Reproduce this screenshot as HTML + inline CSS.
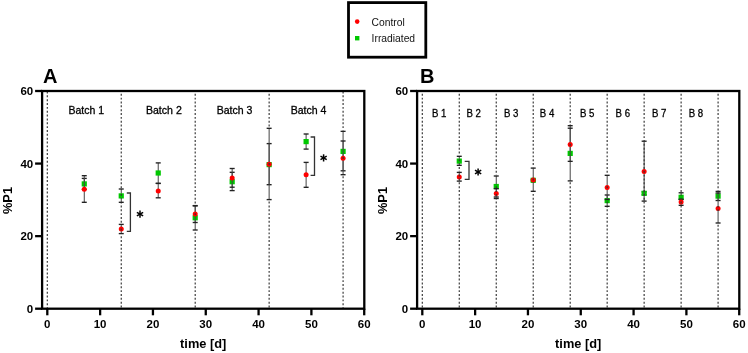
<!DOCTYPE html>
<html><head><meta charset="utf-8"><style>
html,body{margin:0;padding:0;background:#fff;width:748px;height:353px;overflow:hidden}
svg{display:block;will-change:transform}
text{font-family:"Liberation Sans", sans-serif}
.tk{font-size:11.5px;font-weight:bold;fill:#000}
.let{font-size:20px;font-weight:bold;fill:#000}
.ax{font-size:12.8px;font-weight:bold;fill:#000}
.bl{font-size:10.8px;fill:#000;stroke:#000;stroke-width:0.3px}
.lg{font-size:10.3px;fill:#111}
</style></head><body>
<svg width="748" height="353" viewBox="0 0 748 353">
<rect width="748" height="353" fill="#fff"/>
<line x1="84.27" y1="178.40" x2="84.27" y2="189.40" stroke="#444" stroke-width="1.0"/>
<line x1="81.77" y1="178.40" x2="86.77" y2="178.40" stroke="#222" stroke-width="1.35"/>
<line x1="81.77" y1="189.40" x2="86.77" y2="189.40" stroke="#222" stroke-width="1.35"/>
<rect x="81.67" y="181.30" width="5.2" height="5.2" fill="#00c800"/>
<line x1="84.27" y1="175.70" x2="84.27" y2="202.30" stroke="#444" stroke-width="1.0"/>
<line x1="81.77" y1="175.70" x2="86.77" y2="175.70" stroke="#222" stroke-width="1.35"/>
<line x1="81.77" y1="202.30" x2="86.77" y2="202.30" stroke="#222" stroke-width="1.35"/>
<circle cx="84.27" cy="189.20" r="2.5" fill="#ff0000"/>
<line x1="121.25" y1="189.00" x2="121.25" y2="202.30" stroke="#444" stroke-width="1.0"/>
<line x1="118.75" y1="189.00" x2="123.75" y2="189.00" stroke="#222" stroke-width="1.35"/>
<line x1="118.75" y1="202.30" x2="123.75" y2="202.30" stroke="#222" stroke-width="1.35"/>
<rect x="118.65" y="193.30" width="5.2" height="5.2" fill="#00c800"/>
<line x1="121.25" y1="224.40" x2="121.25" y2="233.60" stroke="#444" stroke-width="1.0"/>
<line x1="118.75" y1="224.40" x2="123.75" y2="224.40" stroke="#222" stroke-width="1.35"/>
<line x1="118.75" y1="233.60" x2="123.75" y2="233.60" stroke="#222" stroke-width="1.35"/>
<circle cx="121.25" cy="228.90" r="2.5" fill="#ff0000"/>
<line x1="158.22" y1="162.90" x2="158.22" y2="183.40" stroke="#444" stroke-width="1.0"/>
<line x1="155.72" y1="162.90" x2="160.72" y2="162.90" stroke="#222" stroke-width="1.35"/>
<line x1="155.72" y1="183.40" x2="160.72" y2="183.40" stroke="#222" stroke-width="1.35"/>
<rect x="155.62" y="170.40" width="5.2" height="5.2" fill="#00c800"/>
<line x1="158.22" y1="183.40" x2="158.22" y2="197.80" stroke="#444" stroke-width="1.0"/>
<line x1="155.72" y1="183.40" x2="160.72" y2="183.40" stroke="#222" stroke-width="1.35"/>
<line x1="155.72" y1="197.80" x2="160.72" y2="197.80" stroke="#222" stroke-width="1.35"/>
<circle cx="158.22" cy="191.00" r="2.5" fill="#ff0000"/>
<line x1="195.20" y1="205.60" x2="195.20" y2="230.00" stroke="#444" stroke-width="1.0"/>
<line x1="192.70" y1="205.60" x2="197.70" y2="205.60" stroke="#222" stroke-width="1.35"/>
<line x1="192.70" y1="230.00" x2="197.70" y2="230.00" stroke="#222" stroke-width="1.35"/>
<rect x="192.60" y="215.20" width="5.2" height="5.2" fill="#00c800"/>
<line x1="195.20" y1="205.90" x2="195.20" y2="222.50" stroke="#444" stroke-width="1.0"/>
<line x1="192.70" y1="205.90" x2="197.70" y2="205.90" stroke="#222" stroke-width="1.35"/>
<line x1="192.70" y1="222.50" x2="197.70" y2="222.50" stroke="#222" stroke-width="1.35"/>
<circle cx="195.20" cy="214.10" r="2.5" fill="#ff0000"/>
<line x1="232.17" y1="172.30" x2="232.17" y2="190.60" stroke="#444" stroke-width="1.0"/>
<line x1="229.67" y1="172.30" x2="234.67" y2="172.30" stroke="#222" stroke-width="1.35"/>
<line x1="229.67" y1="190.60" x2="234.67" y2="190.60" stroke="#222" stroke-width="1.35"/>
<rect x="229.57" y="179.10" width="5.2" height="5.2" fill="#00c800"/>
<line x1="232.17" y1="168.50" x2="232.17" y2="187.20" stroke="#444" stroke-width="1.0"/>
<line x1="229.67" y1="168.50" x2="234.67" y2="168.50" stroke="#222" stroke-width="1.35"/>
<line x1="229.67" y1="187.20" x2="234.67" y2="187.20" stroke="#222" stroke-width="1.35"/>
<circle cx="232.17" cy="178.00" r="2.5" fill="#ff0000"/>
<line x1="269.14" y1="143.60" x2="269.14" y2="184.70" stroke="#444" stroke-width="1.0"/>
<line x1="266.64" y1="143.60" x2="271.64" y2="143.60" stroke="#222" stroke-width="1.35"/>
<line x1="266.64" y1="184.70" x2="271.64" y2="184.70" stroke="#222" stroke-width="1.35"/>
<rect x="266.54" y="162.00" width="5.2" height="5.2" fill="#00c800"/>
<line x1="269.14" y1="128.30" x2="269.14" y2="199.60" stroke="#444" stroke-width="1.0"/>
<line x1="266.64" y1="128.30" x2="271.64" y2="128.30" stroke="#222" stroke-width="1.35"/>
<line x1="266.64" y1="199.60" x2="271.64" y2="199.60" stroke="#222" stroke-width="1.35"/>
<circle cx="269.14" cy="164.30" r="2.5" fill="#ff0000"/>
<line x1="306.12" y1="134.00" x2="306.12" y2="149.10" stroke="#444" stroke-width="1.0"/>
<line x1="303.62" y1="134.00" x2="308.62" y2="134.00" stroke="#222" stroke-width="1.35"/>
<line x1="303.62" y1="149.10" x2="308.62" y2="149.10" stroke="#222" stroke-width="1.35"/>
<rect x="303.52" y="139.00" width="5.2" height="5.2" fill="#00c800"/>
<line x1="306.12" y1="162.40" x2="306.12" y2="187.30" stroke="#444" stroke-width="1.0"/>
<line x1="303.62" y1="162.40" x2="308.62" y2="162.40" stroke="#222" stroke-width="1.35"/>
<line x1="303.62" y1="187.30" x2="308.62" y2="187.30" stroke="#222" stroke-width="1.35"/>
<circle cx="306.12" cy="174.80" r="2.5" fill="#ff0000"/>
<line x1="343.09" y1="131.35" x2="343.09" y2="170.80" stroke="#444" stroke-width="1.0"/>
<line x1="340.59" y1="131.35" x2="345.59" y2="131.35" stroke="#222" stroke-width="1.35"/>
<line x1="340.59" y1="170.80" x2="345.59" y2="170.80" stroke="#222" stroke-width="1.35"/>
<rect x="340.49" y="148.80" width="5.2" height="5.2" fill="#00c800"/>
<line x1="343.09" y1="141.00" x2="343.09" y2="174.70" stroke="#444" stroke-width="1.0"/>
<line x1="340.59" y1="141.00" x2="345.59" y2="141.00" stroke="#222" stroke-width="1.35"/>
<line x1="340.59" y1="174.70" x2="345.59" y2="174.70" stroke="#222" stroke-width="1.35"/>
<circle cx="343.09" cy="158.20" r="2.5" fill="#ff0000"/>
<line x1="47.30" y1="91.50" x2="47.30" y2="307.70" stroke="#333" stroke-width="1.15" stroke-dasharray="1.925,1.925" stroke-dashoffset="0.000"/>
<line x1="121.25" y1="89.95" x2="121.25" y2="188.20" stroke="#333" stroke-width="1.15" stroke-dasharray="1.925,1.925" stroke-dashoffset="0.000"/>
<line x1="121.25" y1="193.30" x2="121.25" y2="198.50" stroke="#333" stroke-width="1.15" stroke-dasharray="1.925,1.925" stroke-dashoffset="3.250"/>
<line x1="121.25" y1="203.10" x2="121.25" y2="223.60" stroke="#333" stroke-width="1.15" stroke-dasharray="1.925,1.925" stroke-dashoffset="1.500"/>
<line x1="121.25" y1="226.40" x2="121.25" y2="231.40" stroke="#333" stroke-width="1.15" stroke-dasharray="1.925,1.925" stroke-dashoffset="1.700"/>
<line x1="121.25" y1="234.40" x2="121.25" y2="307.70" stroke="#333" stroke-width="1.15" stroke-dasharray="1.925,1.925" stroke-dashoffset="2.000"/>
<line x1="195.20" y1="89.95" x2="195.20" y2="204.80" stroke="#333" stroke-width="1.15" stroke-dasharray="1.925,1.925" stroke-dashoffset="0.000"/>
<line x1="195.20" y1="211.60" x2="195.20" y2="216.60" stroke="#333" stroke-width="1.15" stroke-dasharray="1.925,1.925" stroke-dashoffset="2.300"/>
<line x1="195.20" y1="230.80" x2="195.20" y2="307.70" stroke="#333" stroke-width="1.15" stroke-dasharray="1.925,1.925" stroke-dashoffset="2.250"/>
<line x1="269.14" y1="89.95" x2="269.14" y2="127.50" stroke="#333" stroke-width="1.15" stroke-dasharray="1.925,1.925" stroke-dashoffset="0.000"/>
<line x1="269.14" y1="161.80" x2="269.14" y2="166.80" stroke="#333" stroke-width="1.15" stroke-dasharray="1.925,1.925" stroke-dashoffset="2.550"/>
<line x1="269.14" y1="200.40" x2="269.14" y2="307.70" stroke="#333" stroke-width="1.15" stroke-dasharray="1.925,1.925" stroke-dashoffset="2.650"/>
<line x1="343.09" y1="91.50" x2="343.09" y2="130.55" stroke="#333" stroke-width="1.15" stroke-dasharray="1.925,1.925" stroke-dashoffset="0.000"/>
<line x1="343.09" y1="155.70" x2="343.09" y2="160.70" stroke="#333" stroke-width="1.15" stroke-dasharray="1.925,1.925" stroke-dashoffset="2.600"/>
<line x1="343.09" y1="175.50" x2="343.09" y2="307.70" stroke="#333" stroke-width="1.15" stroke-dasharray="1.925,1.925" stroke-dashoffset="3.150"/>
<polyline points="126.80,193.00 130.40,193.00 130.40,231.40 126.80,231.40" fill="none" stroke="#333" stroke-width="1.3"/>
<line x1="140.00" y1="210.50" x2="140.00" y2="217.70" stroke="#000" stroke-width="1.5"/>
<line x1="136.88" y1="212.30" x2="143.12" y2="215.90" stroke="#000" stroke-width="1.5"/>
<line x1="143.12" y1="212.30" x2="136.88" y2="215.90" stroke="#000" stroke-width="1.5"/>
<polyline points="310.60,137.00 314.50,137.00 314.50,175.40 310.60,175.40" fill="none" stroke="#333" stroke-width="1.3"/>
<line x1="323.60" y1="154.30" x2="323.60" y2="161.50" stroke="#000" stroke-width="1.5"/>
<line x1="320.48" y1="156.10" x2="326.72" y2="159.70" stroke="#000" stroke-width="1.5"/>
<line x1="326.72" y1="156.10" x2="320.48" y2="159.70" stroke="#000" stroke-width="1.5"/>
<rect x="42.10" y="91.00" width="322.20" height="217.70" fill="none" stroke="#000" stroke-width="2.3"/>
<line x1="35.10" y1="308.70" x2="42.10" y2="308.70" stroke="#000" stroke-width="2.3"/>
<text x="33.20" y="313.00" text-anchor="end" class="tk">0</text>
<line x1="35.10" y1="236.13" x2="42.10" y2="236.13" stroke="#000" stroke-width="2.3"/>
<text x="33.20" y="240.43" text-anchor="end" class="tk">20</text>
<line x1="35.10" y1="163.57" x2="42.10" y2="163.57" stroke="#000" stroke-width="2.3"/>
<text x="33.20" y="167.87" text-anchor="end" class="tk">40</text>
<line x1="35.10" y1="91.00" x2="42.10" y2="91.00" stroke="#000" stroke-width="2.3"/>
<text x="33.20" y="95.30" text-anchor="end" class="tk">60</text>
<line x1="47.30" y1="308.70" x2="47.30" y2="315.30" stroke="#000" stroke-width="2.3"/>
<text x="47.30" y="328.20" text-anchor="middle" class="tk">0</text>
<line x1="100.12" y1="308.70" x2="100.12" y2="315.30" stroke="#000" stroke-width="2.3"/>
<text x="100.12" y="328.20" text-anchor="middle" class="tk">10</text>
<line x1="152.94" y1="308.70" x2="152.94" y2="315.30" stroke="#000" stroke-width="2.3"/>
<text x="152.94" y="328.20" text-anchor="middle" class="tk">20</text>
<line x1="205.76" y1="308.70" x2="205.76" y2="315.30" stroke="#000" stroke-width="2.3"/>
<text x="205.76" y="328.20" text-anchor="middle" class="tk">30</text>
<line x1="258.58" y1="308.70" x2="258.58" y2="315.30" stroke="#000" stroke-width="2.3"/>
<text x="258.58" y="328.20" text-anchor="middle" class="tk">40</text>
<line x1="311.40" y1="308.70" x2="311.40" y2="315.30" stroke="#000" stroke-width="2.3"/>
<text x="311.40" y="328.20" text-anchor="middle" class="tk">50</text>
<line x1="364.22" y1="308.70" x2="364.22" y2="315.30" stroke="#000" stroke-width="2.3"/>
<text x="364.22" y="328.20" text-anchor="middle" class="tk">60</text>
<text x="43.00" y="83.0" class="let">A</text>
<text transform="translate(11.90,200.5) rotate(-90)" text-anchor="middle" class="ax">%P1</text>
<text x="203.20" y="347.5" text-anchor="middle" class="ax">time [d]</text>
<text x="68.40" y="113.50" class="bl" textLength="35.70" lengthAdjust="spacingAndGlyphs">Batch 1</text>
<text x="145.90" y="113.50" class="bl" textLength="35.90" lengthAdjust="spacingAndGlyphs">Batch 2</text>
<text x="216.70" y="113.50" class="bl" textLength="35.70" lengthAdjust="spacingAndGlyphs">Batch 3</text>
<text x="290.70" y="113.50" class="bl" textLength="35.80" lengthAdjust="spacingAndGlyphs">Batch 4</text>
<line x1="459.27" y1="156.30" x2="459.27" y2="165.30" stroke="#444" stroke-width="1.0"/>
<line x1="456.77" y1="156.30" x2="461.77" y2="156.30" stroke="#222" stroke-width="1.35"/>
<line x1="456.77" y1="165.30" x2="461.77" y2="165.30" stroke="#222" stroke-width="1.35"/>
<rect x="456.67" y="158.50" width="5.2" height="5.2" fill="#00c800"/>
<line x1="459.27" y1="172.40" x2="459.27" y2="181.10" stroke="#444" stroke-width="1.0"/>
<line x1="456.77" y1="172.40" x2="461.77" y2="172.40" stroke="#222" stroke-width="1.35"/>
<line x1="456.77" y1="181.10" x2="461.77" y2="181.10" stroke="#222" stroke-width="1.35"/>
<circle cx="459.27" cy="177.10" r="2.5" fill="#ff0000"/>
<line x1="496.25" y1="176.00" x2="496.25" y2="197.00" stroke="#444" stroke-width="1.0"/>
<line x1="493.75" y1="176.00" x2="498.75" y2="176.00" stroke="#222" stroke-width="1.35"/>
<line x1="493.75" y1="197.00" x2="498.75" y2="197.00" stroke="#222" stroke-width="1.35"/>
<rect x="493.65" y="183.90" width="5.2" height="5.2" fill="#00c800"/>
<line x1="496.25" y1="188.70" x2="496.25" y2="198.50" stroke="#444" stroke-width="1.0"/>
<line x1="493.75" y1="188.70" x2="498.75" y2="188.70" stroke="#222" stroke-width="1.35"/>
<line x1="493.75" y1="198.50" x2="498.75" y2="198.50" stroke="#222" stroke-width="1.35"/>
<circle cx="496.25" cy="193.60" r="2.5" fill="#ff0000"/>
<line x1="533.22" y1="179.50" x2="533.22" y2="181.00" stroke="#444" stroke-width="1.0"/>
<line x1="530.72" y1="179.50" x2="535.72" y2="179.50" stroke="#222" stroke-width="1.35"/>
<line x1="530.72" y1="181.00" x2="535.72" y2="181.00" stroke="#222" stroke-width="1.35"/>
<rect x="530.62" y="177.70" width="5.2" height="5.2" fill="#00c800"/>
<line x1="533.22" y1="168.10" x2="533.22" y2="191.30" stroke="#444" stroke-width="1.0"/>
<line x1="530.72" y1="168.10" x2="535.72" y2="168.10" stroke="#222" stroke-width="1.35"/>
<line x1="530.72" y1="191.30" x2="535.72" y2="191.30" stroke="#222" stroke-width="1.35"/>
<circle cx="533.22" cy="179.90" r="2.5" fill="#ff0000"/>
<line x1="570.20" y1="125.70" x2="570.20" y2="180.90" stroke="#444" stroke-width="1.0"/>
<line x1="567.70" y1="125.70" x2="572.70" y2="125.70" stroke="#222" stroke-width="1.35"/>
<line x1="567.70" y1="180.90" x2="572.70" y2="180.90" stroke="#222" stroke-width="1.35"/>
<rect x="567.60" y="150.80" width="5.2" height="5.2" fill="#00c800"/>
<line x1="570.20" y1="128.20" x2="570.20" y2="161.35" stroke="#444" stroke-width="1.0"/>
<line x1="567.70" y1="128.20" x2="572.70" y2="128.20" stroke="#222" stroke-width="1.35"/>
<line x1="567.70" y1="161.35" x2="572.70" y2="161.35" stroke="#222" stroke-width="1.35"/>
<circle cx="570.20" cy="144.60" r="2.5" fill="#ff0000"/>
<line x1="607.17" y1="195.00" x2="607.17" y2="206.30" stroke="#444" stroke-width="1.0"/>
<line x1="604.67" y1="195.00" x2="609.67" y2="195.00" stroke="#222" stroke-width="1.35"/>
<line x1="604.67" y1="206.30" x2="609.67" y2="206.30" stroke="#222" stroke-width="1.35"/>
<rect x="604.57" y="198.00" width="5.2" height="5.2" fill="#00c800"/>
<line x1="607.17" y1="175.30" x2="607.17" y2="199.50" stroke="#444" stroke-width="1.0"/>
<line x1="604.67" y1="175.30" x2="609.67" y2="175.30" stroke="#222" stroke-width="1.35"/>
<line x1="604.67" y1="199.50" x2="609.67" y2="199.50" stroke="#222" stroke-width="1.35"/>
<circle cx="607.17" cy="187.40" r="2.5" fill="#ff0000"/>
<line x1="644.14" y1="191.80" x2="644.14" y2="194.80" stroke="#444" stroke-width="1.0"/>
<line x1="641.64" y1="191.80" x2="646.64" y2="191.80" stroke="#222" stroke-width="1.35"/>
<line x1="641.64" y1="194.80" x2="646.64" y2="194.80" stroke="#222" stroke-width="1.35"/>
<rect x="641.54" y="190.70" width="5.2" height="5.2" fill="#00c800"/>
<line x1="644.14" y1="141.20" x2="644.14" y2="201.10" stroke="#444" stroke-width="1.0"/>
<line x1="641.64" y1="141.20" x2="646.64" y2="141.20" stroke="#222" stroke-width="1.35"/>
<line x1="641.64" y1="201.10" x2="646.64" y2="201.10" stroke="#222" stroke-width="1.35"/>
<circle cx="644.14" cy="171.40" r="2.5" fill="#ff0000"/>
<line x1="681.12" y1="192.80" x2="681.12" y2="199.50" stroke="#444" stroke-width="1.0"/>
<line x1="678.62" y1="192.80" x2="683.62" y2="192.80" stroke="#222" stroke-width="1.35"/>
<line x1="678.62" y1="199.50" x2="683.62" y2="199.50" stroke="#222" stroke-width="1.35"/>
<rect x="678.52" y="194.70" width="5.2" height="5.2" fill="#00c800"/>
<line x1="681.12" y1="199.20" x2="681.12" y2="205.30" stroke="#444" stroke-width="1.0"/>
<line x1="678.62" y1="199.20" x2="683.62" y2="199.20" stroke="#222" stroke-width="1.35"/>
<line x1="678.62" y1="205.30" x2="683.62" y2="205.30" stroke="#222" stroke-width="1.35"/>
<circle cx="681.12" cy="202.00" r="2.5" fill="#ff0000"/>
<line x1="718.09" y1="191.40" x2="718.09" y2="200.50" stroke="#444" stroke-width="1.0"/>
<line x1="715.59" y1="191.40" x2="720.59" y2="191.40" stroke="#222" stroke-width="1.35"/>
<line x1="715.59" y1="200.50" x2="720.59" y2="200.50" stroke="#222" stroke-width="1.35"/>
<rect x="715.49" y="193.50" width="5.2" height="5.2" fill="#00c800"/>
<line x1="718.09" y1="193.00" x2="718.09" y2="223.00" stroke="#444" stroke-width="1.0"/>
<line x1="715.59" y1="193.00" x2="720.59" y2="193.00" stroke="#222" stroke-width="1.35"/>
<line x1="715.59" y1="223.00" x2="720.59" y2="223.00" stroke="#222" stroke-width="1.35"/>
<circle cx="718.09" cy="208.50" r="2.5" fill="#ff0000"/>
<line x1="422.30" y1="89.95" x2="422.30" y2="307.70" stroke="#333" stroke-width="1.15" stroke-dasharray="1.925,1.925" stroke-dashoffset="0.000"/>
<line x1="459.27" y1="89.95" x2="459.27" y2="155.50" stroke="#333" stroke-width="1.15" stroke-dasharray="1.925,1.925" stroke-dashoffset="0.000"/>
<line x1="459.27" y1="158.50" x2="459.27" y2="163.70" stroke="#333" stroke-width="1.15" stroke-dasharray="1.925,1.925" stroke-dashoffset="3.100"/>
<line x1="459.27" y1="166.10" x2="459.27" y2="171.60" stroke="#333" stroke-width="1.15" stroke-dasharray="1.925,1.925" stroke-dashoffset="3.000"/>
<line x1="459.27" y1="174.60" x2="459.27" y2="179.60" stroke="#333" stroke-width="1.15" stroke-dasharray="1.925,1.925" stroke-dashoffset="3.800"/>
<line x1="459.27" y1="181.90" x2="459.27" y2="307.70" stroke="#333" stroke-width="1.15" stroke-dasharray="1.925,1.925" stroke-dashoffset="3.400"/>
<line x1="496.25" y1="89.95" x2="496.25" y2="175.20" stroke="#333" stroke-width="1.15" stroke-dasharray="1.925,1.925" stroke-dashoffset="0.000"/>
<line x1="496.25" y1="183.90" x2="496.25" y2="187.90" stroke="#333" stroke-width="1.15" stroke-dasharray="1.925,1.925" stroke-dashoffset="1.550"/>
<line x1="496.25" y1="191.10" x2="496.25" y2="196.10" stroke="#333" stroke-width="1.15" stroke-dasharray="1.925,1.925" stroke-dashoffset="1.050"/>
<line x1="496.25" y1="199.30" x2="496.25" y2="307.70" stroke="#333" stroke-width="1.15" stroke-dasharray="1.925,1.925" stroke-dashoffset="1.550"/>
<line x1="533.22" y1="89.95" x2="533.22" y2="167.30" stroke="#333" stroke-width="1.15" stroke-dasharray="1.925,1.925" stroke-dashoffset="0.000"/>
<line x1="533.22" y1="177.40" x2="533.22" y2="182.40" stroke="#333" stroke-width="1.15" stroke-dasharray="1.925,1.925" stroke-dashoffset="2.750"/>
<line x1="533.22" y1="192.10" x2="533.22" y2="307.70" stroke="#333" stroke-width="1.15" stroke-dasharray="1.925,1.925" stroke-dashoffset="2.050"/>
<line x1="570.20" y1="89.95" x2="570.20" y2="124.90" stroke="#333" stroke-width="1.15" stroke-dasharray="1.925,1.925" stroke-dashoffset="0.000"/>
<line x1="570.20" y1="142.10" x2="570.20" y2="147.10" stroke="#333" stroke-width="1.15" stroke-dasharray="1.925,1.925" stroke-dashoffset="2.100"/>
<line x1="570.20" y1="181.70" x2="570.20" y2="307.70" stroke="#333" stroke-width="1.15" stroke-dasharray="1.925,1.925" stroke-dashoffset="3.200"/>
<line x1="607.17" y1="89.95" x2="607.17" y2="174.50" stroke="#333" stroke-width="1.15" stroke-dasharray="1.925,1.925" stroke-dashoffset="0.000"/>
<line x1="607.17" y1="184.90" x2="607.17" y2="189.90" stroke="#333" stroke-width="1.15" stroke-dasharray="1.925,1.925" stroke-dashoffset="2.550"/>
<line x1="607.17" y1="200.30" x2="607.17" y2="203.20" stroke="#333" stroke-width="1.15" stroke-dasharray="1.925,1.925" stroke-dashoffset="2.550"/>
<line x1="607.17" y1="207.10" x2="607.17" y2="307.70" stroke="#333" stroke-width="1.15" stroke-dasharray="1.925,1.925" stroke-dashoffset="1.650"/>
<line x1="644.14" y1="89.95" x2="644.14" y2="307.70" stroke="#333" stroke-width="1.15" stroke-dasharray="1.925,1.925" stroke-dashoffset="0.000"/>
<line x1="681.12" y1="89.95" x2="681.12" y2="192.00" stroke="#333" stroke-width="1.15" stroke-dasharray="1.925,1.925" stroke-dashoffset="0.000"/>
<line x1="681.12" y1="194.70" x2="681.12" y2="198.40" stroke="#333" stroke-width="1.15" stroke-dasharray="1.925,1.925" stroke-dashoffset="0.800"/>
<line x1="681.12" y1="199.50" x2="681.12" y2="204.50" stroke="#333" stroke-width="1.15" stroke-dasharray="1.925,1.925" stroke-dashoffset="1.750"/>
<line x1="681.12" y1="206.10" x2="681.12" y2="307.70" stroke="#333" stroke-width="1.15" stroke-dasharray="1.925,1.925" stroke-dashoffset="0.650"/>
<line x1="718.09" y1="89.95" x2="718.09" y2="190.60" stroke="#333" stroke-width="1.15" stroke-dasharray="1.925,1.925" stroke-dashoffset="0.000"/>
<line x1="718.09" y1="206.00" x2="718.09" y2="211.00" stroke="#333" stroke-width="1.15" stroke-dasharray="1.925,1.925" stroke-dashoffset="0.550"/>
<line x1="718.09" y1="223.80" x2="718.09" y2="307.70" stroke="#333" stroke-width="1.15" stroke-dasharray="1.925,1.925" stroke-dashoffset="2.950"/>
<polyline points="464.70,161.30 469.00,161.30 469.00,179.30 464.70,179.30" fill="none" stroke="#333" stroke-width="1.3"/>
<line x1="478.10" y1="168.40" x2="478.10" y2="175.60" stroke="#000" stroke-width="1.5"/>
<line x1="474.98" y1="170.20" x2="481.22" y2="173.80" stroke="#000" stroke-width="1.5"/>
<line x1="481.22" y1="170.20" x2="474.98" y2="173.80" stroke="#000" stroke-width="1.5"/>
<rect x="417.10" y="91.00" width="322.20" height="217.70" fill="none" stroke="#000" stroke-width="2.3"/>
<line x1="410.10" y1="308.70" x2="417.10" y2="308.70" stroke="#000" stroke-width="2.3"/>
<text x="408.20" y="313.00" text-anchor="end" class="tk">0</text>
<line x1="410.10" y1="236.13" x2="417.10" y2="236.13" stroke="#000" stroke-width="2.3"/>
<text x="408.20" y="240.43" text-anchor="end" class="tk">20</text>
<line x1="410.10" y1="163.57" x2="417.10" y2="163.57" stroke="#000" stroke-width="2.3"/>
<text x="408.20" y="167.87" text-anchor="end" class="tk">40</text>
<line x1="410.10" y1="91.00" x2="417.10" y2="91.00" stroke="#000" stroke-width="2.3"/>
<text x="408.20" y="95.30" text-anchor="end" class="tk">60</text>
<line x1="422.30" y1="308.70" x2="422.30" y2="315.30" stroke="#000" stroke-width="2.3"/>
<text x="422.30" y="328.20" text-anchor="middle" class="tk">0</text>
<line x1="475.12" y1="308.70" x2="475.12" y2="315.30" stroke="#000" stroke-width="2.3"/>
<text x="475.12" y="328.20" text-anchor="middle" class="tk">10</text>
<line x1="527.94" y1="308.70" x2="527.94" y2="315.30" stroke="#000" stroke-width="2.3"/>
<text x="527.94" y="328.20" text-anchor="middle" class="tk">20</text>
<line x1="580.76" y1="308.70" x2="580.76" y2="315.30" stroke="#000" stroke-width="2.3"/>
<text x="580.76" y="328.20" text-anchor="middle" class="tk">30</text>
<line x1="633.58" y1="308.70" x2="633.58" y2="315.30" stroke="#000" stroke-width="2.3"/>
<text x="633.58" y="328.20" text-anchor="middle" class="tk">40</text>
<line x1="686.40" y1="308.70" x2="686.40" y2="315.30" stroke="#000" stroke-width="2.3"/>
<text x="686.40" y="328.20" text-anchor="middle" class="tk">50</text>
<line x1="739.22" y1="308.70" x2="739.22" y2="315.30" stroke="#000" stroke-width="2.3"/>
<text x="739.22" y="328.20" text-anchor="middle" class="tk">60</text>
<text x="420.00" y="83.0" class="let">B</text>
<text transform="translate(386.90,200.5) rotate(-90)" text-anchor="middle" class="ax">%P1</text>
<text x="578.20" y="347.5" text-anchor="middle" class="ax">time [d]</text>
<text x="431.90" y="117.20" class="bl" textLength="14.50" lengthAdjust="spacingAndGlyphs">B 1</text>
<text x="466.50" y="117.20" class="bl" textLength="14.50" lengthAdjust="spacingAndGlyphs">B 2</text>
<text x="504.00" y="117.20" class="bl" textLength="14.50" lengthAdjust="spacingAndGlyphs">B 3</text>
<text x="539.80" y="117.20" class="bl" textLength="14.50" lengthAdjust="spacingAndGlyphs">B 4</text>
<text x="579.90" y="117.20" class="bl" textLength="14.50" lengthAdjust="spacingAndGlyphs">B 5</text>
<text x="615.60" y="117.20" class="bl" textLength="14.50" lengthAdjust="spacingAndGlyphs">B 6</text>
<text x="652.00" y="117.20" class="bl" textLength="14.50" lengthAdjust="spacingAndGlyphs">B 7</text>
<text x="688.70" y="117.20" class="bl" textLength="14.50" lengthAdjust="spacingAndGlyphs">B 8</text>

<rect x="348.5" y="2.6" width="77.3" height="54.6" fill="#fff" stroke="#000" stroke-width="2.8"/>
<circle cx="357.2" cy="21.6" r="2.3" fill="#ff0000"/>
<rect x="355.0" y="36.0" width="4.4" height="4.4" fill="#00c800"/>
<text x="371.6" y="25.6" class="lg">Control</text>
<text x="371.6" y="41.7" class="lg">Irradiated</text>

</svg>
</body></html>
